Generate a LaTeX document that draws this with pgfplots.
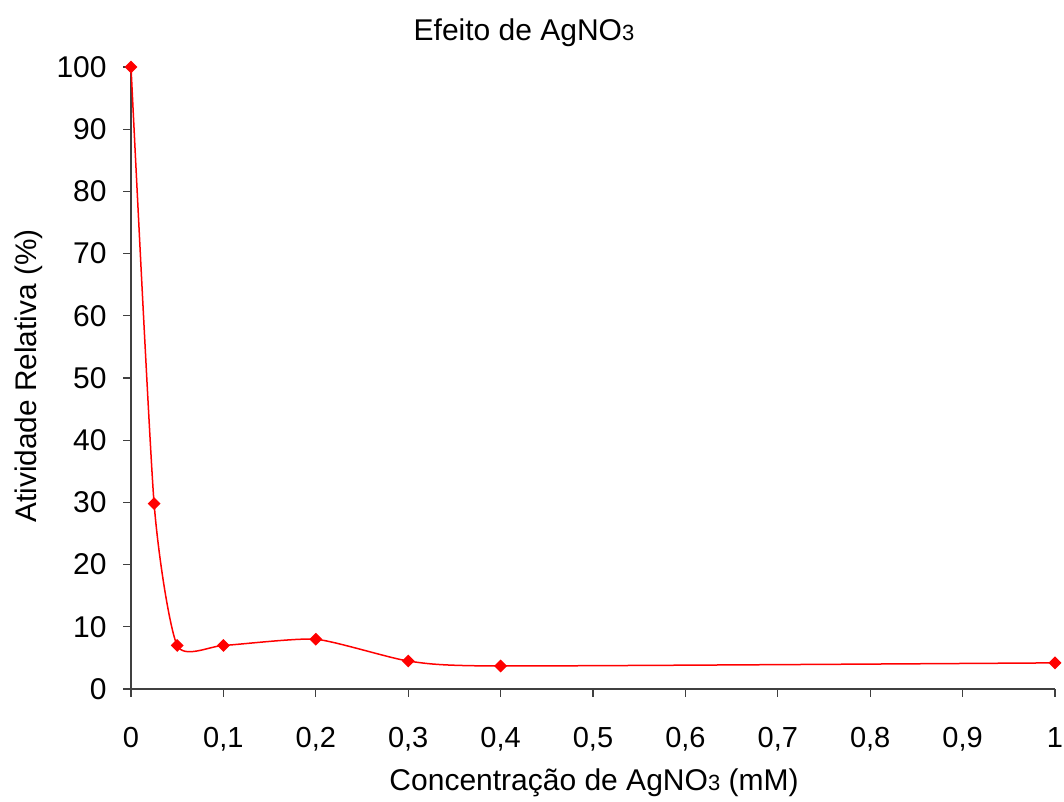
\documentclass[border=0pt]{standalone}
\usepackage{pgfplots}
\pgfplotsset{compat=1.18}
\usepackage{fontspec}
\setmainfont{Liberation Sans}
\begin{document}
\fontsize{15}{18}\selectfont
\begin{tikzpicture}
\useasboundingbox (0,0) rectangle (532pt,401pt);
\begin{axis}[
  at={(65.5pt,56.5pt)}, anchor=south west,
  scale only axis, width=462pt, height=311pt,
  xmin=0, xmax=1, ymin=0, ymax=100,
  axis x line=bottom, axis y line=left,
  axis line style={-, line width=0.6pt, color=black!75},
  xtick={0,0.1,...,1.01}, ytick={0,10,...,100},
  tick align=outside, tick style={line width=0.6pt, color=black!75},
  major tick length=4pt,
  /pgf/number format/assume math mode=true,
  /pgf/number format/use comma,
  xticklabel style={font=\fontsize{14.5}{17}\selectfont, yshift=-10pt},
  yticklabel style={font=\fontsize{15}{18}\selectfont, xshift=-3pt},
  clip=false,
]
\addplot[red, line width=0.75pt, smooth, tension=0.35, mark=square*, mark size=1.9pt, mark options={rotate=45, solid, fill=red}]
coordinates {(0,100) (0.025,29.8) (0.05,7) (0.1,7) (0.2,8) (0.3,4.5) (0.4,3.7) (1,4.2)};
\end{axis}
\node at (262pt,384.5pt) {Efeito de AgNO{\fontsize{11}{12}\selectfont 3}};
\node at (297pt,9.5pt) {Concentração de AgNO{\fontsize{11}{12}\selectfont 3} (mM)};
\node[rotate=90, font=\fontsize{14.9}{17}\selectfont] at (14.3pt,213pt) {Atividade Relativa (\%)};
\end{tikzpicture}
\end{document}
